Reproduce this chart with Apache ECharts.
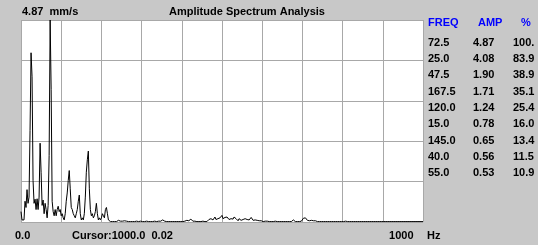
<!DOCTYPE html>
<html><head><meta charset="utf-8">
<script src="https://cdn.jsdelivr.net/npm/echarts@6/dist/echarts.min.js"></script>
<style>html,body{margin:0;padding:0;background:#c8c8c8;}#c{width:538px;height:245px;}</style>
</head><body><div id="c"></div>
<script>
// Spectrum: 2.5 Hz resolution, 0..1000 Hz (401 points), amplitude in mm/s
const freqStep = 2.5;
const amplitude = [
 0.25,0.05,0.02,0.05,0.5,0.35,0.78,0.45,0.6,2.2,
 4.08,3.5,1.0,0.45,0.55,0.3,0.56,0.3,0.6,1.90,
 1.2,0.4,0.53,0.2,0.45,0.3,0.1,0.4,1.6,4.87,
 3.2,0.5,0.25,0.15,0.3,0.15,0.3,0.38,0.25,0.3,
 0.15,0.2,0.1,0.05,0.2,0.5,0.7,1.0,1.24,0.8,
 0.35,0.3,0.2,0.15,0.1,0.2,0.3,0.5,0.65,0.2,
 0.05,0.1,0.05,0.2,0.6,1.2,1.5,1.71,0.8,0.3,
 0.15,0.2,0.1,0.15,0.25,0.45,0.2,0.05,0.1,0.05,
 0.1,0.2,0.15,0.1,0.3,0.35,0.2,0.05,0.02,0.01,
 0.02,0.01,0.03,0.01,0.02,0.01,0.02,0.04,0.06,0.02,
 0.01,0.02,0.01,0.03,0.05,0.02,0.01,0.01,0.02,0.01,
 0.01,0.01,0.02,0.01,0.04,0.02,0.01,0.01,0.01,0.02,
 0.01,0.01,0.01,0.01,0.01,0.02,0.01,0.01,0.01,0.01,
 0.01,0.01,0.01,0.02,0.01,0.01,0.01,0.02,0.03,0.02,
 0.03,0.05,0.03,0.02,0.01,0.01,0.01,0.01,0.01,0.01,
 0.01,0.01,0.01,0.01,0.02,0.01,0.01,0.01,0.01,0.01,
 0.01,0.01,0.01,0.02,0.01,0.04,0.06,0.03,0.05,0.07,
 0.04,0.02,0.01,0.02,0.03,0.01,0.02,0.01,0.01,0.01,
 0.01,0.02,0.01,0.01,0.02,0.01,0.03,0.06,0.03,0.08,
 0.10,0.05,0.09,0.12,0.06,0.10,0.08,0.04,0.10,0.13,
 0.16,0.08,0.05,0.11,0.09,0.12,0.10,0.06,0.04,0.08,
 0.10,0.07,0.12,0.14,0.08,0.05,0.03,0.08,0.10,0.04,
 0.02,0.06,0.04,0.08,0.10,0.06,0.03,0.05,0.09,0.11,
 0.08,0.04,0.02,0.05,0.07,0.04,0.02,0.03,0.05,0.03,
 0.02,0.01,0.03,0.02,0.01,0.02,0.01,0.01,0.02,0.01,
 0.01,0.01,0.01,0.02,0.01,0.01,0.01,0.01,0.01,0.01,
 0.01,0.01,0.01,0.01,0.01,0.01,0.01,0.01,0.01,0.01,
 0.03,0.05,0.02,0.01,0.01,0.01,0.02,0.01,0.01,0.02,
 0.05,0.09,0.06,0.10,0.07,0.04,0.06,0.03,0.02,0.04,
 0.02,0.03,0.01,0.03,0.01,0.01,0.01,0.01,0.01,0.01,
 0.01,0.01,0.02,0.01,0.01,0.01,0.01,0.01,0.01,0.01,
 0.01,0.01,0.01,0.01,0.01,0.01,0.02,0.01,0.01,0.01,
 0.01,0.01,0.01,0.02,0.01,0.01,0.01,0.01,0.01,0.01,
 0.01,0.01,0.01,0.01,0.01,0.01,0.01,0.01,0.01,0.01,
 0.01,0.01,0.01,0.01,0.01,0.01,0.01,0.01,0.01,0.01,
 0.01,0.01,0.01,0.01,0.01,0.01,0.01,0.01,0.01,0.01,
 0.01,0.01,0.01,0.01,0.01,0.01,0.01,0.01,0.01,0.01,
 0.01,0.01,0.01,0.01,0.01,0.01,0.01,0.01,0.01,0.01,
 0.01,0.01,0.01,0.01,0.01,0.01,0.01,0.01,0.01,0.01,
 0.01,0.01,0.01,0.01,0.01,0.01,0.01,0.01,0.01,0.01,
 0.01
];
const yMax = 4.87;
const xMax = 1000;
// Peak table
const peakFreq = ['72.5','25.0','47.5','167.5','120.0','15.0','145.0','40.0','55.0'];
const peakAmp  = ['4.87','4.08','1.90','1.71','1.24','0.78','0.65','0.56','0.53'];
const peakPct  = ['100.','83.9','38.9','35.1','25.4','16.0','13.4','11.5','10.9'];
const tableHeaders = ['FREQ','AMP','%'];
// Texts
const titleText = 'Amplitude Spectrum Analysis';
const scaleText = '4.87  mm/s';
const xStartText = '0.0';
const cursorText = 'Cursor:1000.0  0.02';
const xEndText = '1000';
const unitText = 'Hz';

const FONT = '"Liberation Sans", Arial, sans-serif';
const data = amplitude.map((v, i) => [i * freqStep, v]);

const g = [];
function txt(x, y, s, align, color, size) {
  g.push({type:'text', x:x, y:y, silent:true, style:{text:s, fill:color||'#000', font:'bold '+(size||11)+'px '+FONT, textAlign:align||'left', textVerticalAlign:'middle'}});
}
txt(22, 12, scaleText);
txt(247, 12, titleText, 'center');
txt(15, 235.5, xStartText);
txt(72, 235.5, cursorText);
txt(413.5, 235.5, xEndText, 'right');
txt(427, 235.5, unitText);
const colX = [428, 473, 513];
const hdrX = [428, 478, 521];
tableHeaders.forEach((h, i) => txt(hdrX[i], 23, h, 'left', '#0000ff', 11));
peakFreq.forEach((f, k) => {
  const y = 42.7 + 16.3 * k;
  txt(colX[0], y, f);
  txt(colX[1], y, peakAmp[k]);
  txt(colX[2], y, peakPct[k]);
});

const chart = echarts.init(document.getElementById('c'), null, {renderer:'canvas'});
chart.setOption({
  backgroundColor:'#c8c8c8',
  animation:false,
  grid:{left:21, top:20, width:402, height:202, show:true, backgroundColor:'#ffffff', borderWidth:0},
  xAxis:{type:'value', min:0, max:xMax, interval:100,
    axisLine:{show:false}, axisTick:{show:false}, axisLabel:{show:false},
    splitLine:{show:true, lineStyle:{color:'#a8a8a8', width:1}}},
  yAxis:[
    {type:'value', min:0, max:yMax, axisLine:{show:false}, axisTick:{show:false}, axisLabel:{show:false}, splitLine:{show:false}},
    {type:'value', min:0, max:5, interval:1, axisLine:{show:false}, axisTick:{show:false}, axisLabel:{show:false},
      splitLine:{show:true, lineStyle:{color:'#a8a8a8', width:1}}}
  ],
  series:[{type:'line', data:data, yAxisIndex:0, showSymbol:false, symbol:'none',
    lineStyle:{color:'#000', width:1}, silent:true}],
  graphic:g
});
</script></body></html>
